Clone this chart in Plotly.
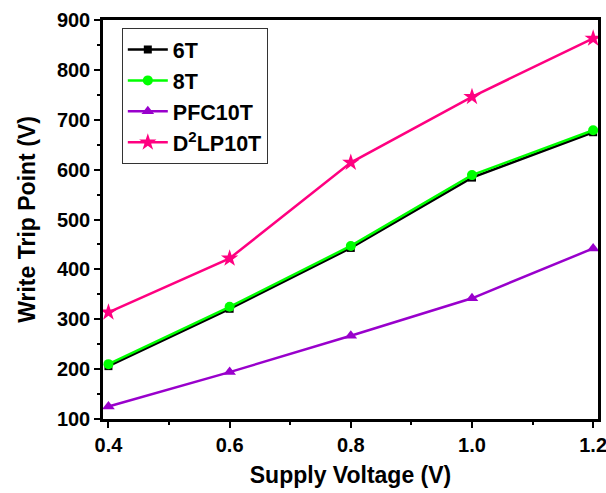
import plotly.graph_objects as go

voltage = [0.4, 0.6, 0.8, 1.0, 1.2]
t6 = [206, 321, 443, 584, 675]
t8 = [210, 325, 447, 589, 679]
pfc10t = [125, 194, 267, 342, 442]
d2lp10t = [314, 422, 614, 746, 863]

series = [
    ("6T", t6, "#000000", "square", 8),
    ("8T", t8, "#00FF00", "circle", 10),
    ("PFC10T", pfc10t, "#9900CC", "triangle-up", 11),
    ("D<sup>2</sup>LP10T", d2lp10t, "#FF0080", "star", 13),
]

fig = go.Figure()
for name, ys, col, sym, sz in series:
    fig.add_trace(go.Scatter(
        x=voltage, y=ys, name=name, mode="lines+markers",
        line=dict(color=col, width=2.5),
        marker=dict(symbol=sym, size=sz, color=col),
    ))

font_family = "Liberation Sans, Arial, sans-serif"
axis_common = dict(
    showline=True, linewidth=2.5, linecolor="black", mirror=True,
    ticks="outside", ticklen=6, tickwidth=2, tickcolor="black",
    showgrid=False, zeroline=False, automargin=False,
    ticklabeloverflow="allow",
    tickfont=dict(family=font_family, size=20, color="black", weight="bold"),
)

fig.update_layout(
    width=606, height=493,
    margin=dict(l=103, r=8, t=20, b=74),
    paper_bgcolor="white", plot_bgcolor="white",
    font=dict(family=font_family, color="black"),
    xaxis=dict(
        range=[0.391, 1.208], tickvals=[0.4, 0.6, 0.8, 1.0, 1.2],
        ticktext=["0.4", "0.6", "0.8", "1.0", "1.2"],
        minor=dict(tickvals=[0.5, 0.7, 0.9, 1.1], ticks="outside", ticklen=3, tickwidth=2, tickcolor="black"),
        title=dict(text="Supply Voltage (V)", font=dict(size=23, weight="bold", family=font_family), standoff=13),
        **axis_common,
    ),
    yaxis=dict(
        range=[100, 900], tickvals=[100, 200, 300, 400, 500, 600, 700, 800, 900],
        minor=dict(tickvals=[150, 250, 350, 450, 550, 650, 750, 850], ticks="outside", ticklen=3, tickwidth=2, tickcolor="black"),
        title=dict(text="Write Trip Point (V)", font=dict(size=23, weight="bold", family=font_family), standoff=15),
        **axis_common,
    ),
    legend=dict(
        x=0.038, y=0.98, xanchor="left", yanchor="top",
        bgcolor="white", bordercolor="#333333", borderwidth=1,
        font=dict(family=font_family, size=21.5, color="black", weight="bold"),
        tracegroupgap=0, itemwidth=40,
    ),
    showlegend=True,
)

fig.write_html(
    "out.html",
    config={"displayModeBar": False},
    post_script="document.body.style.margin='0';document.body.style.overflow='hidden';",
)
